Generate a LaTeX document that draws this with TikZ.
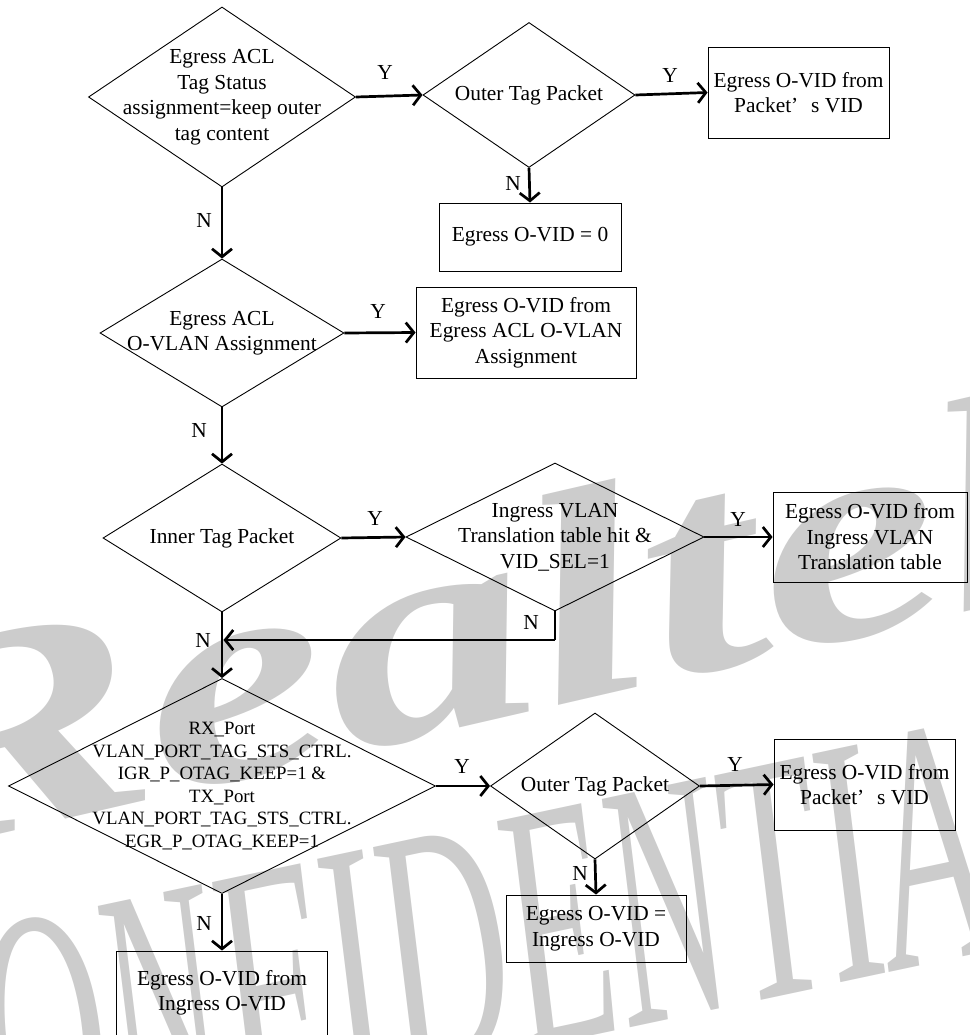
\documentclass[tikz,border=0pt]{standalone}
\usepackage{fontspec}
\setmainfont{Liberation Serif}
\usetikzlibrary{shapes.geometric,arrows.meta}
\newcommand\myfontA{\fontsize{21.4}{25.5}\selectfont}
\newcommand\myfontB{\fontsize{18.8}{22.5}\selectfont}
\begin{document}
\begin{tikzpicture}[x=1pt,y=-1pt,
  dia/.style={diamond, draw=black, line width=0.9pt, inner sep=0pt},
  box/.style={rectangle, draw=black, line width=0.9pt, inner sep=0pt, align=center, font=\myfontA},
  txt/.style={align=center, font=\myfontA, inner sep=0pt},
  lbl/.style={font=\myfontA, inner sep=0pt},
  arr/.style={line width=2.7pt, -{Straight Barb[length=8pt,width=20pt]}},
  ln/.style={line width=2.7pt},
  wm/.style={text=black!20, inner sep=0pt, anchor=base west}]
\useasboundingbox (0,0) rectangle (969,1035);
\clip (0,0) rectangle (969,1035);
% watermark
\node[wm, rotate=13] (wm1) at (-110,860) {\scalebox{1.4}[1]{\fontsize{300}{300}\selectfont\bfseries\itshape Realtek}};
\node[wm, rotate=12] (wm2) at (-110,1185) {\scalebox{0.5}[1]{\fontsize{350}{350}\selectfont\itshape CONFIDENTIAL}};
% diamonds
\node[dia, minimum width=267pt, minimum height=180pt] (d1) at (222,97) {};
\node[txt] at (d1) {Egress ACL\\Tag Status\\assignment=keep outer\\tag content};
\node[dia, minimum width=212pt, minimum height=145pt] (d2) at (529,95) {};
\node[txt] at (d2) {Outer Tag Packet};
\node[dia, minimum width=244pt, minimum height=148pt] (d3) at (222,333) {};
\node[txt] at (d3) {Egress ACL\\O-VLAN Assignment};
\node[dia, minimum width=238pt, minimum height=148pt] (d4) at (222,538) {};
\node[txt] at (d4) {Inner Tag Packet};
\node[dia, minimum width=298pt, minimum height=148pt] (d5) at (555,537) {};
\node[txt] at (d5) {Ingress VLAN\\Translation table hit \&\\VID\_SEL=1};
\node[dia, minimum width=427pt, minimum height=215pt] (d6) at (222,786) {};
\node[txt, font=\myfontB] at (d6) {RX\_Port\\VLAN\_PORT\_TAG\_STS\_CTRL.\\IGR\_P\_OTAG\_KEEP=1 \&\\TX\_Port\\VLAN\_PORT\_TAG\_STS\_CTRL.\\EGR\_P\_OTAG\_KEEP=1};
\node[dia, minimum width=209pt, minimum height=146pt] (d7) at (595,786) {};
\node[txt] at (d7) {Outer Tag Packet};
% boxes
\node[box, minimum width=181pt, minimum height=91pt] (b1) at (798.5,92.5) {Egress O-VID from\\Packet’\hspace{0.6em}s VID};
\node[box, minimum width=182pt, minimum height=68pt] (b2) at (530,237) {Egress O-VID = 0};
\node[box, minimum width=220pt, minimum height=91pt] (b3) at (526,332.5) {Egress O-VID from\\Egress ACL O-VLAN\\Assignment};
\node[box, minimum width=194pt, minimum height=90pt] (b4) at (870,537) {Egress O-VID from\\Ingress VLAN\\Translation table};
\node[box, minimum width=181pt, minimum height=91pt] (b5) at (864.5,784.5) {Egress O-VID from\\Packet’\hspace{0.6em}s VID};
\node[box, minimum width=180pt, minimum height=67pt] (b6) at (596,928.5) {Egress O-VID =\\Ingress O-VID};
\node[box, minimum width=211pt, minimum height=84pt] (b7) at (222,993) {Egress O-VID from\\Ingress O-VID};
% connectors
\draw[arr] (d1.east) -- (d2.west);
\draw[arr] (d2.east) -- (b1.west);
\draw[arr] (d2.south) -- (b2.north);
\draw[arr] (d1.south) -- (d3.north);
\draw[arr] (d3.east) -- (b3.west);
\draw[arr] (d3.south) -- (d4.north);
\draw[arr] (d4.east) -- (d5.west);
\draw[arr] (d5.east) -- (b4.west);
\coordinate (j1) at (555,640);
\coordinate (j2) at (223.5,640);
\draw[ln] (d5.south) -- (j1);
\draw[arr] (j1) -- (j2);
\draw[arr] (d4.south) -- (d6.north);
\draw[arr] (d6.east) -- (d7.west);
\draw[arr] (d7.east) -- (b5.west);
\draw[arr] (d7.south) -- (b6.north);
\draw[arr] (d6.south) -- (b7.north);
% labels
\node[lbl] (y1) at (385,72) {Y};
\node[lbl] (y2) at (670,75) {Y};
\node[lbl] (n1) at (513,183) {N};
\node[lbl] (n2) at (204,220) {N};
\node[lbl] (y3) at (378,311) {Y};
\node[lbl] (n3) at (199,430) {N};
\node[lbl] (y4) at (375,518) {Y};
\node[lbl] (y5) at (738,519) {Y};
\node[lbl] (n4) at (531,622) {N};
\node[lbl] (n5) at (203,640) {N};
\node[lbl] (y6) at (462,766) {Y};
\node[lbl] (y7) at (735,764) {Y};
\node[lbl] (n6) at (580,873) {N};
\node[lbl] (n7) at (204,923) {N};
\end{tikzpicture}
\end{document}
